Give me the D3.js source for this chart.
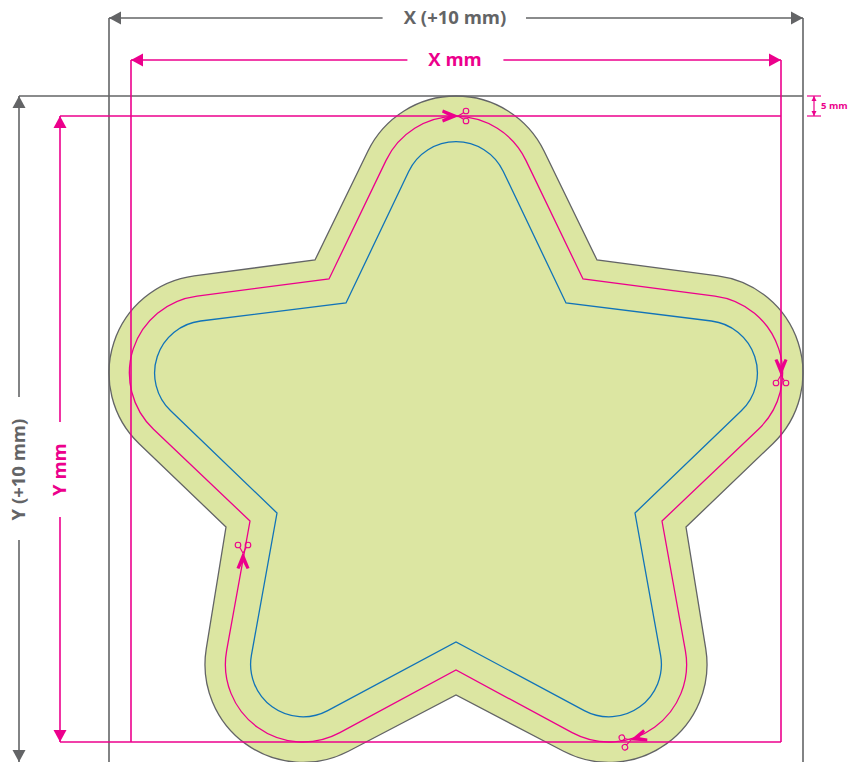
<!DOCTYPE html>
<html>
<head>
<meta charset="utf-8">
<title>Star sticker template</title>
<script src="https://cdn.jsdelivr.net/npm/d3@7"></script>
<style>
  html, body { margin: 0; padding: 0; background: #fff; }
  svg { display: block; }
  text { font-family: "Open Sans", "Noto Sans", sans-serif; font-weight: 700; }
</style>
</head>
<body>
<div id="chart"></div>
<script>
// all values in mm, measured from the top left corner of the bleed box
const tipCenters = [[86.75, 24.5], [149, 69.25], [125, 142.1], [48.5, 142.1], [24.5, 69.25]]

const bleedNotches = [[122, 41], [144.25, 107.75], [86.75, 149.75], [29.25, 107.75], [51.5, 41]]
const trimNotches = [[118.5, 45.75], [138.25, 106.25], [86.75, 143.5], [35.25, 106.25], [55, 45.75]]
const safeNotches = [[114.25, 51.75], [131.5, 104.25], [86.75, 136.5], [42, 104.25], [59.25, 51.75]]

const bleedRadius = 24.5
const trimRadius = 19.4
const safeRadius = 13.1

const greyLines = [
  [[0, -19.5], [0, 166.5]],
  [[173.5, -19.5], [173.5, 166.5]],
  [[-22.5, 0], [173.5, 0]],
  [[0, -19.5], [68.4, -19.5]],
  [[104.25, -19.5], [173.5, -19.5]],
  [[-22.5, 0], [-22.5, 75.25]],
  [[-22.5, 111], [-22.5, 166.5]]
]
const pinkLines = [
  [[5.5, -9], [5.5, 161.5]],
  [[168, -9], [168, 161.5]],
  [[-12.25, 5], [168, 5]],
  [[-12.25, 161.5], [168, 161.5]],
  [[5.5, -9], [74.6, -9]],
  [[98.6, -9], [168, -9]],
  [[-12.25, 5], [-12.25, 81.5]],
  [[-12.25, 105.25], [-12.25, 161.5]]
]
const smallLines = [
  [[174.5, 0], [178, 0]],
  [[174.5, 5], [178, 5]],
  [[176.25, 0], [176.25, 5]]
]

// tip point and direction in degrees
const greyArrows = [[0, -19.5, 180], [173.5, -19.5, 0], [-22.5, 0, -90], [-22.5, 166.5, 90]]
const pinkArrows = [[5.5, -9, 180], [168, -9, 0], [-12.25, 5, -90], [-12.25, 161.5, 90]]
const smallArrows = [[176.25, 0, -90], [176.25, 5, 90]]

// crossing point of the blades and rotation in degrees
const scissors = [[87.25, 5, 0], [168, 69.75, 90], [33.5, 114.25, -90], [130.5, 161, 162]]

const labels = [
  { text: 'X (+10 mm)', x: 86.5, y: -19.5, angle: 0, kind: 'grey' },
  { text: 'X mm', x: 86.5, y: -9.1, angle: 0, kind: 'pink' },
  { text: 'Y (+10 mm)', x: -22.5, y: 93.4, angle: -90, kind: 'grey' },
  { text: 'Y mm', x: -12.25, y: 93.4, angle: -90, kind: 'pink' }
]

const width = 848
const height = 762
const grey = '#636466'
const pink = '#ec008c'
const blue = '#1173b8'
const green = '#dce6a2'

const x = d3.scaleLinear().domain([0, 173.5]).range([109, 803])
const y = d3.scaleLinear().domain([0, 166.5]).range([96, 762])
const r = d3.scaleLinear().domain([0, 1]).range([0, 4])

const svg = d3.select('#chart').append('svg')
  .attr('width', width)
  .attr('height', height)
  .attr('viewBox', `0 0 ${width} ${height}`)

// rounded star: an arc around each tip, straight tangents to the notches
function starPath (notches, radius) {
  const path = d3.path()
  const rad = r(radius)
  const tips = tipCenters.map(d => [x(d[0]), y(d[1])])
  const pts = notches.map(d => [x(d[0]), y(d[1])])
  tips.forEach((c, i) => {
    const prev = pts[(i + pts.length - 1) % pts.length]
    const next = pts[i]
    const distPrev = Math.hypot(prev[0] - c[0], prev[1] - c[1])
    const distNext = Math.hypot(next[0] - c[0], next[1] - c[1])
    const a0 = Math.atan2(prev[1] - c[1], prev[0] - c[0]) + Math.acos(rad / distPrev)
    const a1 = Math.atan2(next[1] - c[1], next[0] - c[0]) - Math.acos(rad / distNext)
    path.arc(c[0], c[1], rad, a0, a1, false)
    path.lineTo(next[0], next[1])
  })
  path.closePath()
  return path.toString()
}

svg.append('path')
  .attr('d', starPath(bleedNotches, bleedRadius))
  .attr('fill', green)
  .attr('stroke', grey)
  .attr('stroke-width', 1.3)

svg.append('path')
  .attr('d', starPath(trimNotches, trimRadius))
  .attr('fill', 'none')
  .attr('stroke', pink)
  .attr('stroke-width', 1.3)

svg.append('path')
  .attr('d', starPath(safeNotches, safeRadius))
  .attr('fill', 'none')
  .attr('stroke', blue)
  .attr('stroke-width', 1.3)

function drawLines (data, color, w) {
  svg.append('g').selectAll('line').data(data).enter().append('line')
    .attr('x1', d => x(d[0][0]))
    .attr('y1', d => y(d[0][1]))
    .attr('x2', d => x(d[1][0]))
    .attr('y2', d => y(d[1][1]))
    .attr('stroke', color)
    .attr('stroke-width', w)
}

function drawArrows (data, color, len, half) {
  svg.append('g').selectAll('path').data(data).enter().append('path')
    .attr('d', `M0,0L${-len},${-half}L${-len},${half}Z`)
    .attr('transform', d => `translate(${x(d[0])},${y(d[1])}) rotate(${d[2]})`)
    .attr('fill', color)
}

drawLines(greyLines, grey, 1.6)
drawLines(pinkLines, pink, 1.6)
drawLines(smallLines, pink, 1.2)
drawArrows(greyArrows, grey, 12, 6.5)
drawArrows(pinkArrows, pink, 12, 6.5)
drawArrows(smallArrows, pink, 5, 2.5)

const cut = svg.append('g').selectAll('g').data(scissors).enter().append('g')
  .attr('transform', d => `translate(${x(d[0])},${y(d[1])}) rotate(${d[2]})`)

cut.append('path')
  .attr('d', 'M1,0L-15,-6.5L-16,-3.6L-9,0L-16,3.6L-15,6.5Z')
  .attr('fill', pink)

cut.selectAll('circle').data([-5, 5]).enter().append('circle')
  .attr('cx', 8)
  .attr('cy', d => d)
  .attr('r', 2.8)
  .attr('fill', 'none')
  .attr('stroke', pink)
  .attr('stroke-width', 1.1)

cut.selectAll('line').data([-3.5, 3.5]).enter().append('line')
  .attr('x1', 0)
  .attr('y1', 0)
  .attr('x2', 6)
  .attr('y2', d => d)
  .attr('stroke', pink)
  .attr('stroke-width', 1.1)

svg.append('g').selectAll('text').data(labels).enter().append('text')
  .attr('transform', d => `translate(${x(d.x)},${y(d.y)}) rotate(${d.angle})`)
  .attr('text-anchor', 'middle')
  .attr('dy', '0.35em')
  .attr('font-size', 18.5)
  .attr('fill', d => d.kind === 'grey' ? grey : pink)
  .text(d => d.text)

svg.append('text')
  .attr('x', x(178))
  .attr('y', y(2.5))
  .attr('dy', '0.35em')
  .attr('font-size', 9.5)
  .attr('fill', pink)
  .text('5 mm')
</script>
</body>
</html>
